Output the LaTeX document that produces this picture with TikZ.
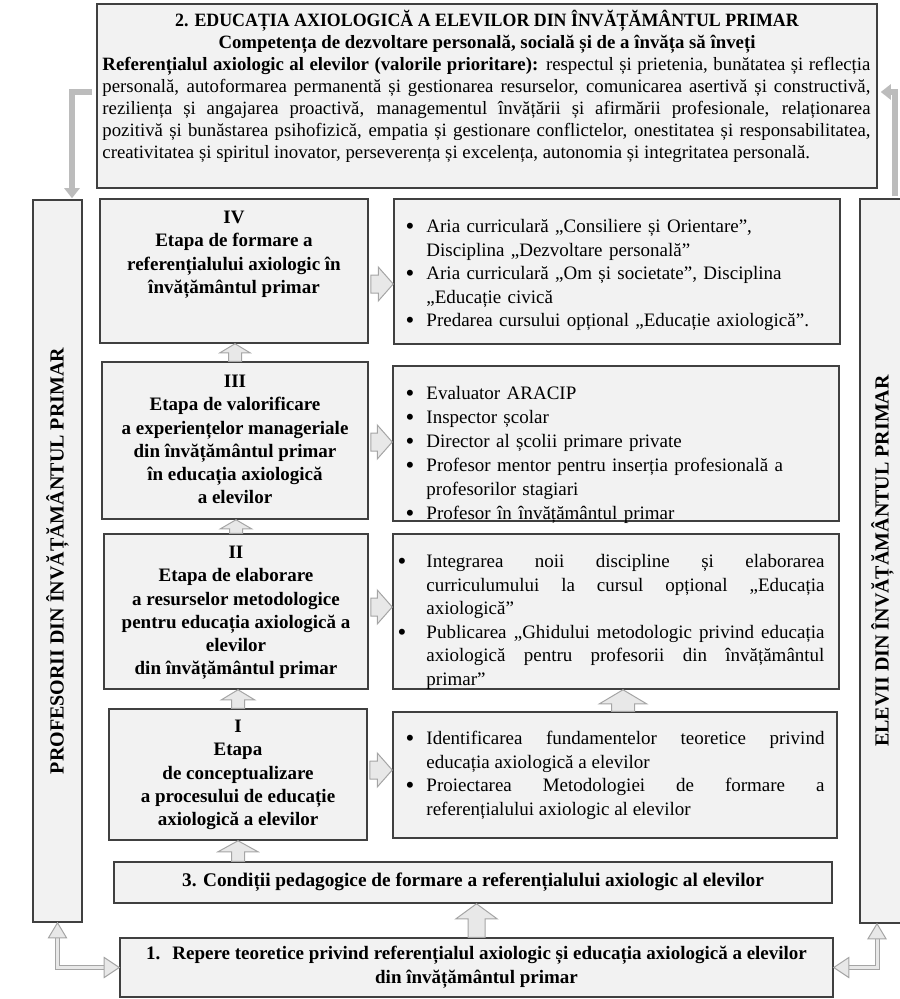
\documentclass[tikz,border=0pt]{standalone}
\usepackage{fontspec}
\setmainfont{Liberation Serif}
\newfontfamily\condserif[FakeStretch=0.95]{Liberation Serif}
\usetikzlibrary{calc,arrows.meta}
\definecolor{boxfill}{RGB}{242,242,242}
\definecolor{boxline}{RGB}{64,64,64}
\definecolor{arrfill}{RGB}{232,232,232}
\definecolor{arrline}{RGB}{165,165,165}
\definecolor{conngray}{RGB}{188,188,188}
\newcommand\mystrut{\rule{0pt}{16bp}}
\newcommand\bigbullet{\raisebox{-1.8bp}{\fontsize{25bp}{25bp}\selectfont\textbullet}}
\newcommand\bitem[1][12bp]{\par\noindent\llap{\bigbullet\hskip#1}\mystrut\ignorespaces}
% vertical block arrow: #1 base, #2 tip, #3 shaft half width, #4 head half width, #5 head length
\newcommand\blockup[5]{\draw[blockarrow] ($(#1)+(-#3,0)$) -- ($(#2)+(-#3,#5)$) -- ($(#2)+(-#4,#5)$) -- (#2) -- ($(#2)+(#4,#5)$) -- ($(#2)+(#3,#5)$) -- ($(#1)+(#3,0)$) -- cycle;}
% horizontal block arrow pointing right
\newcommand\blockright[5]{\draw[blockarrow] ($(#1)+(0,-#3)$) -- ($(#2)+(-#5,-#3)$) -- ($(#2)+(-#5,-#4)$) -- (#2) -- ($(#2)+(-#5,#4)$) -- ($(#2)+(-#5,#3)$) -- ($(#1)+(0,#3)$) -- cycle;}
\begin{document}
\begin{tikzpicture}[x=1bp,y=-1bp,
  box/.style={draw=boxline,fill=boxfill,line width=1.5bp,inner sep=0pt,rectangle},
  blockarrow/.style={draw=arrline,fill=arrfill,line width=1bp,line join=miter},
  grayconn/.style={draw=conngray,line width=6bp,line join=miter,-{Triangle[length=10bp,width=15bp]}},
  dblshaft/.style={draw=arrline,double=arrfill,double distance=3bp,line width=1bp,line join=miter},
  dblhead/.style={draw=arrline,fill=arrfill,line width=1bp,line join=miter},
  stagetxt/.style={align=center,inner sep=0pt,anchor=north,font={\fontsize{19bp}{23.3bp}\selectfont\bfseries}},
  bullettxt/.style={text width=398bp,inner sep=0pt,anchor=north west,font={\fontsize{19bp}{23.5bp}\selectfont\tolerance=10000\hyphenpenalty=10000}},
  vtxt/.style={rotate=90,inner sep=0pt,font={\fontsize{20bp}{24bp}\selectfont\bfseries}}
]
\useasboundingbox (0,0) rectangle (900,999);
% boxes
\node[box,minimum width=780bp,minimum height=184bp] (top) at (487,96) {};
\node[box,minimum width=49bp,minimum height=722bp] (prof) at (57.5,561) {};
\node[box,minimum width=45bp,minimum height=724bp] (elev) at (882.5,561) {};
\node[box,minimum width=268bp,minimum height=144bp] (s4) at (234,271) {};
\node[box,minimum width=266bp,minimum height=157bp] (s3) at (235,440.5) {};
\node[box,minimum width=264bp,minimum height=155bp] (s2) at (236,611.5) {};
\node[box,minimum width=258bp,minimum height=131bp] (s1) at (238,774.5) {};
\node[box,minimum width=446bp,minimum height=145bp] (b4) at (617,271.5) {};
\node[box,minimum width=446bp,minimum height=155bp] (b3) at (616,443.5) {};
\node[box,minimum width=446bp,minimum height=155bp] (b2) at (616,611.5) {};
\node[box,minimum width=444bp,minimum height=126bp] (b1) at (615,775) {};
\node[box,minimum width=718bp,minimum height=41bp] (c3) at (473,882.5) {};
\node[box,minimum width=713bp,minimum height=59bp] (r1) at (476.5,967.5) {};
% top box text
\node[anchor=base,inner sep=0pt,font={\condserif\fontsize{18.8bp}{22bp}\selectfont\bfseries}] (ttl) at ($(top.north)+(0,23)$) {2. EDUCAȚIA AXIOLOGICĂ A ELEVILOR DIN ÎNVĂȚĂMÂNTUL PRIMAR};
\node[anchor=base,inner sep=0pt,font={\fontsize{18.8bp}{22bp}\selectfont\bfseries}] (comp) at ($(top.north)+(0,45)$) {Competența de dezvoltare personală, socială și de a învăța să înveți};
\node[anchor=north west,inner sep=0pt,text width=768bp,align=justify,font={\fontsize{18.8bp}{22bp}\selectfont\tolerance=10000\hyphenpenalty=10000}] (para) at ($(top.north west)+(6,51)$) {\noindent\mystrut\textbf{Referențialul axiologic al elevilor (valorile prioritare):} respectul și prietenia, bunătatea și reflecția\linebreak personală, autoformarea permanentă și gestionarea resurselor, comunicarea asertivă și constructivă,\linebreak reziliența și angajarea proactivă, managementul învățării și afirmării profesionale, relaționarea\linebreak pozitivă și bunăstarea psihofizică, empatia și gestionare conflictelor, onestitatea și responsabilitatea,\linebreak creativitatea și spiritul inovator, perseverența și excelența, autonomia și integritatea personală.};
% vertical texts
\node[vtxt] (proft) at (prof.center) {PROFESORII DIN ÎNVĂȚĂMÂNTUL PRIMAR};
\node[vtxt] (elevt) at (elev.center) {ELEVII DIN ÎNVĂȚĂMÂNTUL PRIMAR};
% stage texts
\node[stagetxt] (t4) at ($(s4.north)+(0,9)$) {\mystrut IV\\Etapa de formare a\\referențialului axiologic în\\învățământul primar};
\node[stagetxt] (t3) at ($(s3.north)+(0,10)$) {\mystrut III\\Etapa de valorificare\\a experiențelor manageriale\\din învățământul primar\\în educația axiologică\\a elevilor};
\node[stagetxt] (t2) at ($(s2.north)+(0,9)$) {\mystrut II\\Etapa de elaborare\\a resurselor metodologice\\pentru educația axiologică a\\elevilor\\din învățământul primar};
\node[stagetxt] (t1) at ($(s1.north)+(0,8)$) {\mystrut I\\Etapa\\de conceptualizare\\a procesului de educație\\axiologică a elevilor};
% bullet texts
\node[bullettxt,align=left] (u4) at ($(b4.north west)+(33,11)$) {\bitem Aria curriculară „Consiliere și Orientare”,\newline Disciplina „Dezvoltare personală”\bitem Aria curriculară „Om și societate”, Disciplina\newline „Educație civică\bitem Predarea cursului opțional „Educație axiologică”.};
\node[bullettxt,align=left,font={\fontsize{19bp}{24bp}\selectfont}] (u3) at ($(b3.north west)+(34,10)$) {\bitem Evaluator ARACIP\bitem Inspector școlar\bitem Director al școlii primare private\bitem Profesor mentor pentru inserția profesională a\newline profesorilor stagiari\bitem Profesor în învățământul primar};
\node[bullettxt,align=justify] (u2) at ($(b2.north west)+(34,11)$) {\bitem[20bp] Integrarea noii discipline și elaborarea\linebreak curriculumului la cursul opțional „Educația\linebreak axiologică”\bitem[20bp] Publicarea „Ghidului metodologic privind educația\linebreak axiologică pentru profesorii din învățământul\linebreak primar”};
\node[bullettxt,align=justify] (u1) at ($(b1.north west)+(34,10)$) {\bitem Identificarea fundamentelor teoretice privind\linebreak educația axiologică a elevilor\bitem Proiectarea Metodologiei de formare a\linebreak referențialului axiologic al elevilor};
% bottom texts
\node[inner sep=0pt,font={\fontsize{19.3bp}{23bp}\selectfont\bfseries}] (c3t) at (c3.center) {3. Condiții pedagogice de formare a referențialului axiologic al elevilor};
\node[inner sep=0pt,align=center,font={\fontsize{19bp}{24bp}\selectfont\bfseries}] (r1t) at (r1.center) {1.\hskip 12bp Repere teoretice privind referențialul axiologic și educația axiologică a elevilor\\din învățământul primar};
% block arrows between stages
\coordinate (a34b) at (s3.north); \coordinate (a34t) at (s3.north |- s4.south);
\blockup{a34b}{a34t}{6.5}{15}{9}
\coordinate (a23b) at (s2.north); \coordinate (a23t) at (s2.north |- s3.south);
\blockup{a23b}{a23t}{6.5}{15.5}{9}
\coordinate (a12b) at (s1.north); \coordinate (a12t) at (s1.north |- s2.south);
\blockup{a12b}{a12t}{6.5}{16.5}{10}
\coordinate (ac1b) at (s1.south |- c3.north); \coordinate (ac1t) at (s1.south);
\blockup{ac1b}{ac1t}{6.5}{20}{11}
\coordinate (arcb) at (r1.north); \coordinate (arct) at (r1.north |- c3.south);
\blockup{arcb}{arct}{8.5}{20.5}{15}
\coordinate (abbb) at ($(b1.north)+(8,0)$); \coordinate (abbt) at (abbb |- b2.south);
\blockup{abbb}{abbt}{11.5}{23.5}{14}
% right block arrows
\coordinate (r4b) at ($(s4.east)+(2,13)$); \coordinate (r4t) at (r4b -| b4.west);
\blockright{r4b}{r4t}{9}{17}{15}
\coordinate (r3b) at ($(s3.east)+(2,1.5)$); \coordinate (r3t) at (r3b -| b3.west);
\blockright{r3b}{r3t}{9}{17}{15}
\coordinate (r2b) at ($(s2.east)+(2,-4.5)$); \coordinate (r2t) at (r2b -| b2.west);
\blockright{r2b}{r2t}{9}{17}{15}
\coordinate (r1b) at ($(s1.east)+(2,-4.5)$); \coordinate (r1tip) at (r1b -| b1.west);
\blockright{r1b}{r1tip}{9}{17}{15}
% gray connectors at the top
\draw[grayconn] ($(top.west)+(-4,-4)$) -| ($(prof.north)+(14.5,-1)$);
\draw[grayconn] ($(elev.north)+(12.5,-2)$) |- ($(top.east)+(3,-4)$);
% double arrows at the bottom
\coordinate (pb) at (prof.south);
\coordinate (eb) at ($(elev.south)+(-5.5,0)$);
\draw[dblshaft] ($(pb)+(0,14)$) |- ($(r1.west)+(-14,0)$);
\draw[dblhead] (pb) -- ++(-9,15) -- ++(18,0) -- cycle;
\draw[dblhead] (r1.west) -- ++(-15,-10) -- ++(0,20) -- cycle;
\draw[dblshaft] ($(eb)+(0,14)$) |- ($(r1.east)+(14,0)$);
\draw[dblhead] (eb) -- ++(-9,15) -- ++(18,0) -- cycle;
\draw[dblhead] (r1.east) -- ++(15,-10) -- ++(0,20) -- cycle;
\end{tikzpicture}
\end{document}
